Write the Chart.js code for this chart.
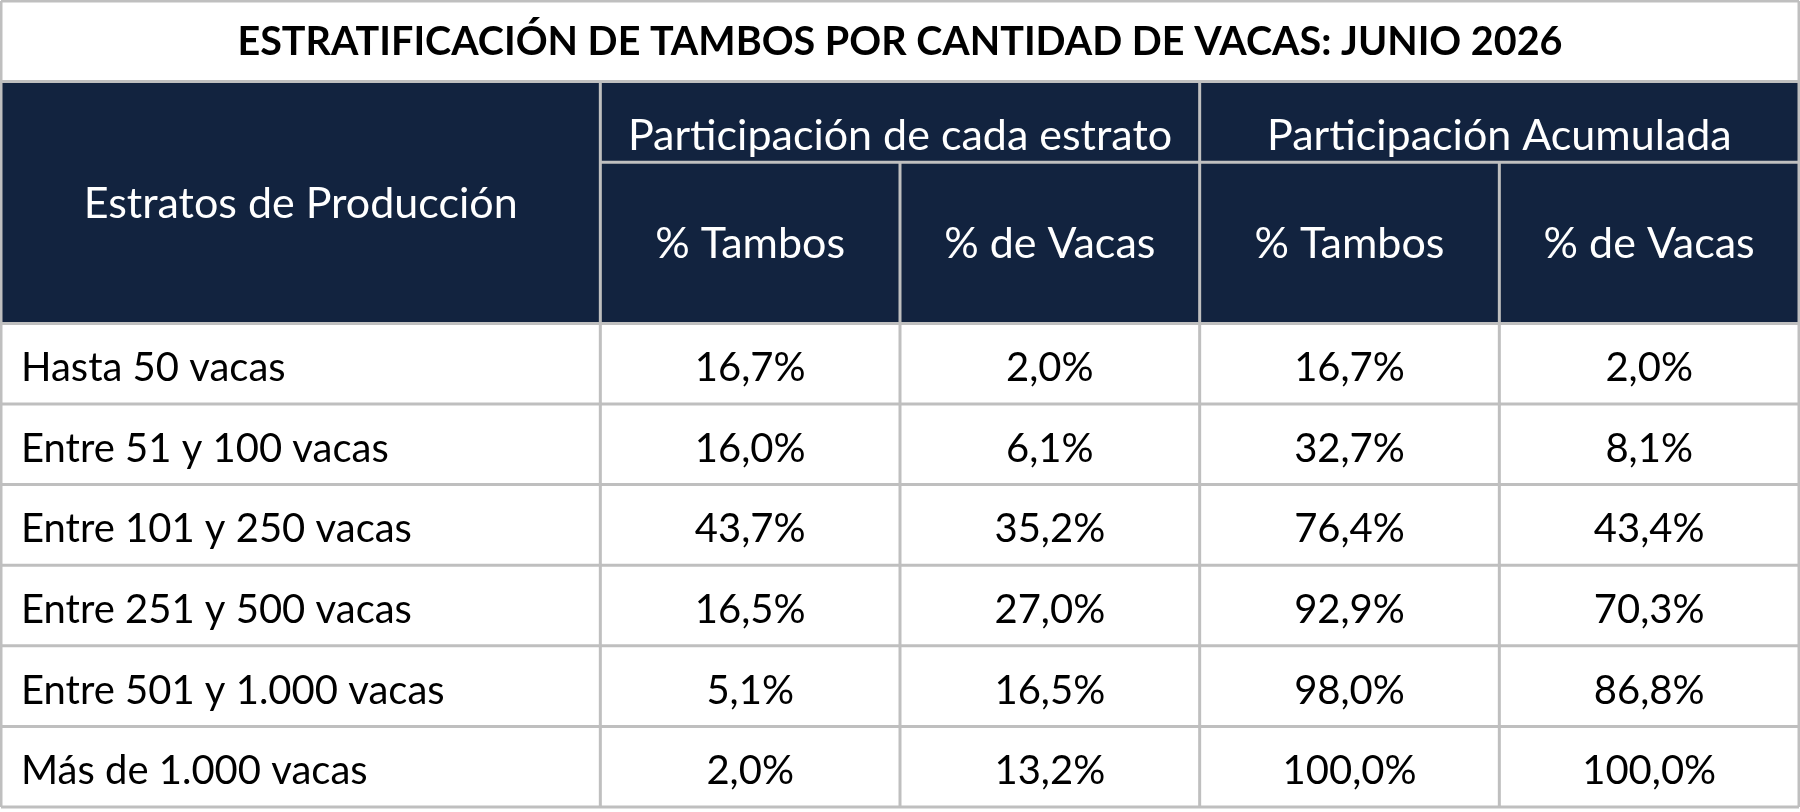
<!DOCTYPE html>
<html>
<head>
<meta charset="utf-8">
<script src="https://cdn.jsdelivr.net/npm/chart.js@4/dist/chart.umd.min.js"></script>
<style>
    html, body { margin: 0; padding: 0; background: #ffffff; }
    #tabla { display: block; }
</style>
</head>
<body>
<canvas id="tabla" width="1800" height="812"></canvas>
<script>
const title = 'ESTRATIFICACIÓN DE TAMBOS POR CANTIDAD DE VACAS: JUNIO 2026';
const rowHeader = 'Estratos de Producción';
const groupHeaders = ['Participación de cada estrato', 'Participación Acumulada'];
const subHeaders = ['% Tambos', '% de Vacas', '% Tambos', '% de Vacas'];
const strata = ['Hasta 50 vacas', 'Entre 51 y 100 vacas', 'Entre 101 y 250 vacas',
    'Entre 251 y 500 vacas', 'Entre 501 y 1.000 vacas', 'Más de 1.000 vacas'];
const tambosShare = [16.7, 16.0, 43.7, 16.5, 5.1, 2.0];
const vacasShare = [2.0, 6.1, 35.2, 27.0, 16.5, 13.2];
const tambosCum = [16.7, 32.7, 76.4, 92.9, 98.0, 100.0];
const vacasCum = [2.0, 8.1, 43.4, 70.3, 86.8, 100.0];

(function () {

    // column edges on x scale (first column is twice as wide), row edges on y scale
    const colEdges = [0, 2, 3, 4, 5, 6];
    const firstDataRow = 4;
    const navy = '#12233f';
    const grid = '#bfbfbf';
    const fam = 'Lato, "Open Sans", sans-serif';

    const fmt = function (v) {
        return v.toFixed(1).replace('.', ',') + '%';
    };

    const series = [tambosShare, vacasShare, tambosCum, vacasCum];

    const datasets = series.map(function (arr, c) {
        return {
            label: subHeaders[c],
            data: arr.map(function (v, r) {
                return {x: (colEdges[c + 1] + colEdges[c + 2]) / 2, y: firstDataRow + r + 0.5, v: v};
            }),
            pointRadius: 0
        };
    });

    // labels of the strata, drawn at the left of the first column
    datasets.push({
        label: 'estratos',
        data: strata.map(function (s, r) {
            return {x: 0, y: firstDataRow + r + 0.5, v: s};
        }),
        pointRadius: 0
    });

    let capText = function (ctx, txt, x, yCenter, size, weight, color, align) {
        ctx.font = weight + ' ' + size + 'px ' + fam;
        ctx.fillStyle = color;
        ctx.textAlign = align || 'center';
        ctx.textBaseline = 'alphabetic';
        ctx.fillText(txt, x, yCenter + size * 0.36);
    };

    const tablePlugin = {
        id: 'tabla',
        afterDatasetsDraw: function (chart) {
            const ctx = chart.ctx;
            const xs = chart.scales.x, ys = chart.scales.y;
            const X = function (v) { return xs.getPixelForValue(v); };
            const Y = function (v) { return ys.getPixelForValue(v); };

            ctx.save();

            // header background
            ctx.fillStyle = navy;
            ctx.fillRect(X(0), Y(1), X(6) - X(0), Y(4) - Y(1));

            // title
            capText(ctx, title, (X(0) + X(6)) / 2, (Y(0) + Y(1)) / 2 - 1, 39.5, 'bold', '#000000');

            // header texts
            capText(ctx, rowHeader, (X(0) + X(2)) / 2, (Y(1) + Y(4)) / 2, 43, 'normal', '#ffffff');
            capText(ctx, groupHeaders[0], (X(2) + X(4)) / 2, Y(2) - 28, 43, 'normal', '#ffffff');
            capText(ctx, groupHeaders[1], (X(4) + X(6)) / 2, Y(2) - 28, 43, 'normal', '#ffffff');
            subHeaders.forEach(function (s, c) {
                capText(ctx, s, (X(colEdges[c + 1]) + X(colEdges[c + 2])) / 2, (Y(2) + Y(4)) / 2, 43, 'normal', '#ffffff');
            });

            // body
            chart.data.datasets.forEach(function (ds, i) {
                const meta = chart.getDatasetMeta(i);
                meta.data.forEach(function (pt, j) {
                    const v = ds.data[j].v;
                    if (typeof v === 'number') {
                        capText(ctx, fmt(v), pt.x, pt.y + 3, 40, 'normal', '#000000');
                    } else {
                        capText(ctx, v, pt.x + 20, pt.y + 3, 40, 'normal', '#000000', 'left');
                    }
                });
            });

            // grid
            ctx.strokeStyle = grid;
            ctx.lineWidth = 3;
            let line = function (x1, y1, x2, y2) {
                ctx.beginPath();
                ctx.moveTo(X(x1), Y(y1));
                ctx.lineTo(X(x2), Y(y2));
                ctx.stroke();
            };
            [0, 1, 4, 5, 6, 7, 8, 9, 10].forEach(function (r) { line(0, r, 6, r); });
            line(2, 2, 6, 2);
            line(0, 0, 0, 10);
            line(6, 0, 6, 10);
            line(2, 1, 2, 10);
            line(4, 1, 4, 10);
            line(3, 2, 3, 10);
            line(5, 2, 5, 10);

            ctx.restore();
        }
    };

    const el = document.getElementById('tabla');
    const chart = new Chart(el.getContext('2d'), {
        type: 'scatter',
        data: {datasets: datasets},
        options: {
            responsive: false,
            animation: false,
            devicePixelRatio: 1,
            layout: {padding: {left: 1, right: 1, top: 1, bottom: 5}},
            scales: {
                x: {type: 'linear', min: 0, max: 6, display: false},
                y: {type: 'linear', min: 0, max: 10, reverse: true, display: false}
            },
            plugins: {
                legend: {display: false},
                tooltip: {enabled: false}
            }
        },
        plugins: [tablePlugin]
    });
})();
</script>
</body>
</html>
